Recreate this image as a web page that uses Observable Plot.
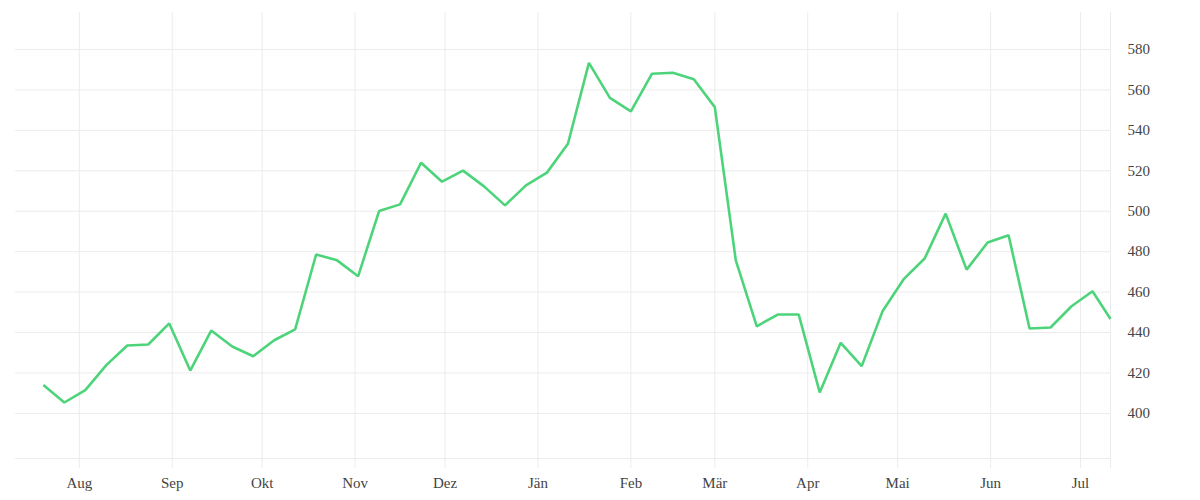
<!DOCTYPE html>
<html>
<head>
<meta charset="utf-8">
<script src="https://cdn.jsdelivr.net/npm/d3@7"></script>
<script src="https://cdn.jsdelivr.net/npm/@observablehq/plot@0.6"></script>
<style>
  html, body { margin: 0; padding: 0; background: #fff; }
</style>
</head>
<body>
<div id="chart"></div>
<script>
const dates = [
  "2022-07-20","2022-07-27","2022-08-03","2022-08-10","2022-08-17","2022-08-24","2022-08-31",
  "2022-09-07","2022-09-14","2022-09-21","2022-09-28","2022-10-05","2022-10-12","2022-10-19",
  "2022-10-26","2022-11-02","2022-11-09","2022-11-16","2022-11-23","2022-11-30","2022-12-07",
  "2022-12-14","2022-12-21","2022-12-28","2023-01-04","2023-01-11","2023-01-18","2023-01-25",
  "2023-02-01","2023-02-08","2023-02-15","2023-02-22","2023-03-01","2023-03-08","2023-03-15",
  "2023-03-22","2023-03-29","2023-04-05","2023-04-12","2023-04-19","2023-04-26","2023-05-03",
  "2023-05-10","2023-05-17","2023-05-24","2023-05-31","2023-06-07","2023-06-14","2023-06-21",
  "2023-06-28","2023-07-05","2023-07-11"
];
const values = [
  414.0, 405.4, 411.5, 423.9, 433.6, 434.1, 444.5,
  421.2, 441.0, 433.1, 428.3, 436.2, 441.6, 478.6,
  475.7, 467.8, 500.1, 503.4, 524.0, 514.6, 520.1,
  512.3, 502.9, 512.8, 519.1, 533.4, 573.4, 556.1,
  549.4, 568.0, 568.5, 565.3, 551.5, 475.7, 443.1,
  448.9, 448.9, 410.4, 434.9, 423.4, 450.7, 466.4,
  476.6, 498.8, 471.1, 484.5, 488.1, 442.0, 442.5,
  453.0, 460.4, 446.7
];
const monthTicks = ["2022-08-01","2022-09-01","2022-10-01","2022-11-01","2022-12-01","2023-01-01",
  "2023-02-01","2023-03-01","2023-04-01","2023-05-01","2023-06-01","2023-07-01"];
const monthLabels = ["Aug","Sep","Okt","Nov","Dez","Jän","Feb","Mär","Apr","Mai","Jun","Jul"];
const yTicks = [400, 420, 440, 460, 480, 500, 520, 540, 560, 580];

const data = dates.map((d, i) => ({date: new Date(d), value: values[i]}));
const xDomain = [new Date("2022-07-10T17:00:00Z"), new Date("2023-07-11T00:00:00Z")];
const yDomain = [377.7, 598.3];
const tickDates = monthTicks.map(d => new Date(d));

const grid = "#ececec";

const chart = Plot.plot({
  width: 1200,
  height: 500,
  marginTop: 12,
  marginBottom: 42,
  marginLeft: 15,
  marginRight: 90,
  style: {fontFamily: "'Liberation Serif', serif", fontSize: "15px", color: "#444", background: "#fff"},
  x: {type: "utc", domain: xDomain},
  y: {domain: yDomain},
  marks: [
    Plot.ruleY(yTicks, {stroke: grid, strokeWidth: 1}),
    Plot.ruleY([yDomain[0]], {stroke: grid, strokeWidth: 1}),
    Plot.ruleX(tickDates, {stroke: grid, strokeWidth: 1, insetBottom: -10}),
    Plot.ruleX([xDomain[1]], {stroke: grid, strokeWidth: 1, insetBottom: -10}),
    Plot.axisX({ticks: tickDates, tickFormat: (d, i) => monthLabels[i], tickSize: 0, tickPadding: 19, fontSize: 15, fill: "#444"}),
    Plot.axisY({anchor: "right", ticks: yTicks, tickSize: 0, tickPadding: 17, fontSize: 15, fill: "#444", label: null}),
    Plot.line(data, {x: "date", y: "value", stroke: "#4dd47b", strokeWidth: 2.6, strokeLinejoin: "miter", strokeLinecap: "butt"})
  ]
});
document.getElementById("chart").appendChild(chart);
</script>
</body>
</html>
